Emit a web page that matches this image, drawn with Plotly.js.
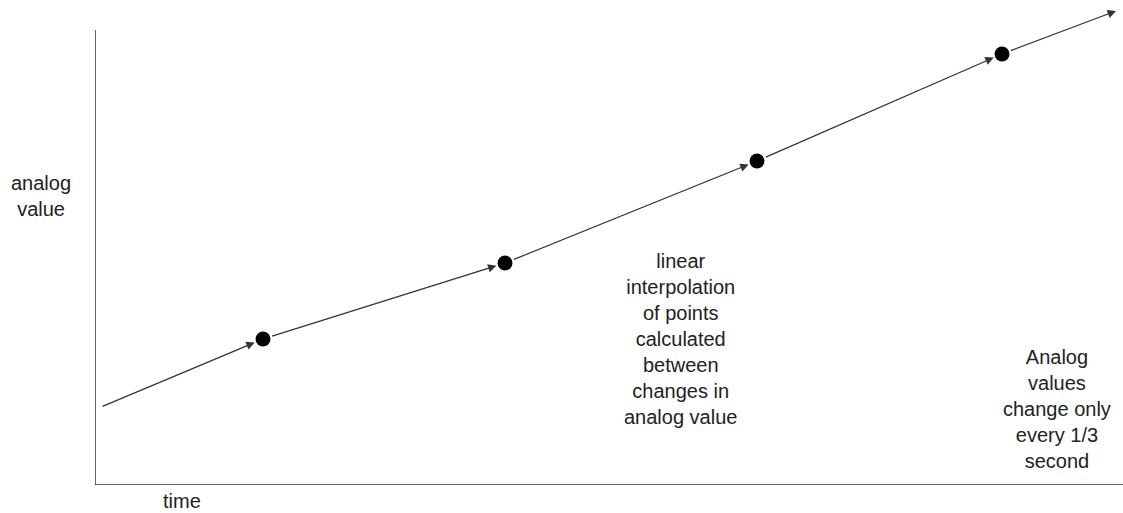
<!DOCTYPE html>
<html>
<head>
<meta charset="utf-8">
<script src="https://cdn.plot.ly/plotly-3.0.1.min.js"></script>
<style>html,body{margin:0;padding:0;background:#fff;}#chart{width:1123px;height:513px;}</style>
</head>
<body>
<div id="chart"></div>
<script>
// line path (time, analog value) in axis units
const pathTime  = [6, 168, 410, 662, 907, 1021];
const pathValue = [78, 146, 222, 324, 431, 474];
// sampled analog points (dots)
const dotTime  = [168, 410, 662, 907];
const dotValue = [146, 222, 324, 431];

const noteInterp = "linear<br>interpolation<br>of points<br>calculated<br>between<br>changes in<br>analog value";
const noteAnalog = "Analog<br>values<br>change only<br>every 1/3<br>second";
const xLabel = "time";
const yLabel = "analog<br>value";

const font = {family: "Liberation Sans, Arial, sans-serif", size: 20, color: "#222"};

const annotations = [];
for (let i = 0; i < pathTime.length - 1; i++) {
  const last = i === pathTime.length - 2;
  annotations.push({
    x: pathTime[i+1], y: pathValue[i+1], xref: "x", yref: "y",
    ax: pathTime[i], ay: pathValue[i], axref: "x", ayref: "y",
    text: "", showarrow: true, arrowhead: 2, arrowsize: 1.4, arrowwidth: 1.2,
    arrowcolor: "#333", standoff: last ? 0 : 9, startstandoff: i === 0 ? 0 : 8
  });
}
annotations.push(
  {x: 680, y: 485-339, xref: "x", yref: "y", text: noteInterp, showarrow: false, font: font, xanchor: "center", yanchor: "middle"},
  {x: 1057-95, y: 485-409, xref: "x", yref: "y", text: noteAnalog, showarrow: false, font: font, xanchor: "center", yanchor: "middle"},
  {x: (182-95)/1028, y: (485-501)/485, xref: "paper", yref: "paper", text: xLabel, showarrow: false, font: font, xanchor: "center", yanchor: "middle"},
  {x: (41-95)/1028, y: (485-196)/485, xref: "paper", yref: "paper", text: yLabel, showarrow: false, font: font, xanchor: "center", yanchor: "middle"}
);
annotations[annotations.length-4].x = 680-95;

const data = [{
  x: dotTime, y: dotValue, type: "scatter", mode: "markers",
  marker: {size: 15, color: "#000"}, cliponaxis: false, hoverinfo: "skip"
}];

const layout = {
  width: 1123, height: 513,
  margin: {l: 95, r: 0, t: 0, b: 28, pad: 0},
  paper_bgcolor: "#fff", plot_bgcolor: "#fff",
  showlegend: false,
  xaxis: {range: [0, 1028], showgrid: false, zeroline: false, showticklabels: false, ticks: "", showline: false, fixedrange: true},
  yaxis: {range: [0, 485], showgrid: false, zeroline: false, showticklabels: false, ticks: "", showline: false, fixedrange: true},
  shapes: [
    {type: "line", xref: "x", yref: "y", x0: 0, x1: 0, y0: 0, y1: 455, line: {color: "#333", width: 1.5}},
    {type: "line", xref: "x", yref: "y", x0: 0, x1: 1028, y0: 0, y1: 0, line: {color: "#333", width: 1.5}}
  ],
  annotations: annotations
};

Plotly.newPlot("chart", data, layout, {displayModeBar: false, staticPlot: true});
</script>
</body>
</html>
